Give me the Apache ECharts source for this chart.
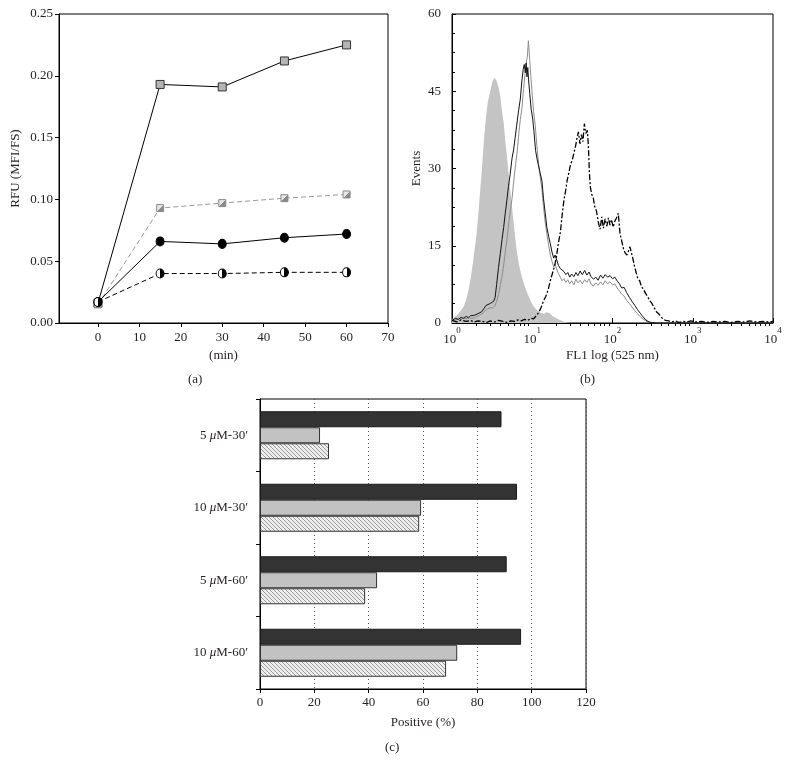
<!DOCTYPE html>
<html>
<head>
<meta charset="utf-8">
<script src="https://cdn.jsdelivr.net/npm/echarts@6/dist/echarts.min.js"></script>
<style>
html,body{margin:0;padding:0;background:#fff;}
#chart{width:789px;height:764px;}
</style>
</head>
<body>
<div id="chart"></div>
<script>
// ---------- Panel (a) data ----------
const minutes = [0, 15, 30, 45, 60];
const rfuSquareSolid  = [0.016, 0.193, 0.191, 0.212, 0.225];
const rfuSquareDashed = [0.015, 0.093, 0.097, 0.101, 0.104];
const rfuCircleSolid  = [0.017, 0.066, 0.064, 0.069, 0.072];
const rfuCircleDashed = [0.017, 0.040, 0.040, 0.041, 0.041];
const minuteTicks = [0, 10, 20, 30, 40, 50, 60, 70];

// ---------- Panel (b) data (FL1 vs events) ----------
const ctrlFL1 = [1.0,1.1,1.2,1.3,1.4,1.5,1.6,1.7,1.8,1.9,2.0,2.1,2.2,2.35,2.5,2.65,2.8,3.0,3.2,3.4,3.6,3.8,4.0,4.2,4.4,4.6,4.8,5.0,5.3,5.6,6.0,6.4,6.9,7.4,8.0,8.7,9.5,10.4,11.5,12.7,14,15.2,16.5,18,20,22,24.5,27,30];
const ctrlEvents = [0.8,1.2,1.8,2.5,3.2,4.5,6.2,8.5,11,14,16.5,20,24,29.5,35.5,40,43,45,47,47.6,47,45.8,44,41,39,35.5,33,30,26,22.5,18,14,11,9,7.3,5.8,4.3,3.2,2.5,2.0,1.8,2.1,1.9,1.3,0.9,0.6,0.3,0.1,0];

const blackFL1 = [1.0,1.1,1.2,1.3,1.4,1.5,1.6,1.7,1.8,1.9,2.0,2.1,2.2,2.35,2.5,2.65,2.8,3.0,3.15,3.3,3.45,3.6,3.8,4.0,4.2,4.4,4.6,4.8,5.05,5.3,5.6,5.85,6.1,6.4,6.75,7.1,7.4,7.7,7.95,8.2,8.4,8.6,8.8,9.0,9.3,9.7,10.1,10.5,11.0,11.5,12.0,12.6,13.2,13.8,14.5,15.2,16.0,16.8,17.6,18.5,19.3,20.2,21.2,22.3,23.5,24.8,26.2,27.7,29.3,31,33,35,37,39.5,42,45,48,51,54,58,62,66,71,76,81,87,93,100,107,114,122,130,140,150,162,175,190,205,222,240,260,285,310,350,1000,10000];
const blackEvents = [0.5,0.9,0.7,1.1,0.9,1.3,1.0,1.4,1.2,1.5,1.3,1.8,1.6,2.2,2.8,3.4,3.2,3.8,3.5,4.2,5.0,7.5,10.8,13.5,16.2,18.5,21.2,23.5,26.5,28.8,32.0,33.6,35.8,38.4,41.2,43.5,46.8,49.2,50.2,48.6,50.5,47.8,49.6,47.2,44.6,41.5,39.8,37.2,33.5,31.8,30.5,29.0,27.6,24.2,21.4,18.6,16.8,15.4,13.8,12.6,13.2,12.2,11.2,10.6,10.8,10.0,9.4,9.8,8.9,9.5,9.0,9.8,9.2,10.1,9.4,10.2,9.3,9.9,9.0,8.5,8.9,8.3,9.3,8.7,9.4,8.9,9.2,8.6,8.9,8.2,7.6,6.8,6.9,5.9,5.0,4.2,3.4,2.6,1.9,1.2,0.6,0.2,0.1,0,0,0];

const grayFL1 = [1.0,1.1,1.2,1.3,1.4,1.5,1.6,1.7,1.8,1.9,2.0,2.2,2.4,2.6,2.8,3.0,3.2,3.4,3.6,3.8,4.0,4.2,4.4,4.6,4.85,5.1,5.35,5.6,5.9,6.2,6.5,6.8,7.1,7.45,7.8,8.1,8.4,8.7,8.95,9.1,9.3,9.6,10.0,10.4,10.9,11.4,12.0,12.6,13.2,13.8,14.5,15.2,16.0,16.8,17.6,18.5,19.3,20.2,21.2,22.3,23.5,24.8,26.2,27.7,29.3,31,33,35,37,39.5,42,45,48,51,54,58,62,66,71,76,81,87,93,100,107,114,122,130,140,150,162,175,190,205,222,240,260,285,310,10000];
const grayEvents = [0.4,0.6,0.9,0.7,1.0,0.8,1.1,0.9,1.2,1.0,1.3,1.5,1.9,2.4,2.8,3.0,2.9,3.3,4.2,5.5,7.4,9.0,11.2,13.6,16.3,19.5,22.0,24.2,27.8,30.8,33.4,36.8,39.5,41.8,45.5,48.2,50.4,51.8,54.8,53.2,51.0,48.0,44.2,41.0,38.4,34.5,30.8,28.2,26.0,22.6,19.6,17.4,15.0,13.2,12.0,10.9,11.4,10.4,9.6,8.9,8.2,8.6,7.9,8.4,7.6,8.2,7.4,8.5,7.8,8.3,7.6,8.4,7.9,8.6,7.5,7.2,7.8,7.3,8.0,7.4,8.2,7.6,8.0,7.4,7.6,6.8,6.2,5.6,5.2,4.4,3.8,3.1,2.4,1.8,1.2,0.8,0.4,0.2,0,0];

const dashFL1 = [1.0,1.15,1.3,1.5,1.7,1.9,2.1,2.4,2.7,3.0,3.4,3.8,4.3,4.8,5.4,6.0,6.6,7.3,8.0,8.8,9.6,10.4,11.2,12.0,12.9,13.8,14.8,15.8,16.8,17.8,18.9,20.0,21.2,22.4,23.6,24.8,26.0,27.3,28.6,30.0,31.5,33.0,34.5,36.0,37.6,39.3,41.0,42.8,44.6,46.5,48.5,50.0,51.5,53,55,57.5,60,63,66.5,70,73.5,77,81,85,89,93,97,102,107,112,118,124,130,137,144,151,158,165,172,180,188,197,207,218,230,243,257,272,290,310,330,352,376,402,430,460,500,550,610,680,760,850,950,1100,1300,1500,1800,2100,2500,3000,3600,4300,5200,6200,7500,9000,10000];
const dashEvents = [0.5,0.2,0.6,0.3,0.5,0.2,0.4,0.3,0.1,0.4,0.2,0.5,0.3,0.1,0.4,0.3,0.6,0.4,0.7,0.5,0.9,0.8,1.4,2.0,3.0,4.3,5.2,6.5,8.2,9.6,11.0,12.8,15.6,17.6,21.0,23.8,25.6,27.8,29.2,30.8,31.6,33.0,34.2,35.8,37.1,34.8,36.6,35.2,38.7,36.8,37.4,34.6,29.2,26.4,25.0,24.4,22.6,21.8,19.6,18.2,20.6,18.4,20.2,18.8,20.4,19.0,20.1,18.6,19.8,20.4,21.3,17.4,16.0,14.4,13.6,13.2,14.0,14.8,14.6,12.4,11.0,9.8,8.6,8.2,7.0,6.6,5.8,5.2,4.4,3.8,3.0,2.2,1.8,1.2,0.7,0.5,0.4,0.2,0.4,0.1,0.3,0.2,0.4,0.2,0.3,0.1,0.3,0.2,0.3,0.1,0.3,0.2,0.4,0.2,0.3,0.2,0.3];

const eventTicksMinor = [2,3,4,5,6,7,8,9];

// ---------- Panel (c) data ----------
const barCategories = ['5 μM-30′', '10 μM-30′', '5 μM-60′', '10 μM-60′'];
const barDark    = [88.9, 94.6, 90.8, 96.1];
const barGray    = [22.1, 59.3, 43.1, 72.6];
const barHatched = [25.4, 58.6, 38.7, 68.5];

// ---------- build ----------
const FONT = "'Liberation Serif', 'Times New Roman', serif";
const TXT = '#231f20';
const zip = (xs, ys) => xs.map((x, i) => [x, ys[i]]);

// hatch pattern
const hatch = document.createElement('canvas');
hatch.width = 4; hatch.height = 4;
(function(){
  const c = hatch.getContext('2d');
  c.fillStyle = '#eeeeee'; c.fillRect(0,0,4,4);
  c.strokeStyle = '#9a9a9a'; c.lineWidth = 1;
  c.beginPath();
  c.moveTo(-1,-1); c.lineTo(5,5);
  c.moveTo(-1,3); c.lineTo(1,5);
  c.moveTo(3,-1); c.lineTo(5,1);
  c.stroke();
})();

// minor log tick positions (in decades)
const minorDecadePos = [];
for (let d = 0; d < 4; d++) eventTicksMinor.forEach(m => minorDecadePos.push(d + Math.log10(m)));

const axisLineBlack = {show: true, onZero: false, lineStyle: {color: '#000', width: 1}};
const labelBase = {color: TXT, fontFamily: FONT, fontSize: 13};
const nameBase = {color: TXT, fontFamily: FONT, fontSize: 13};

const grids = [
  {left: 59, top: 14, width: 329, height: 309, show: true, borderColor: '#000', borderWidth: 1, backgroundColor: 'transparent'},
  {left: 452, top: 14, width: 321, height: 309, show: true, borderColor: '#000', borderWidth: 1, backgroundColor: 'transparent'},
  {left: 260, top: 399, width: 326, height: 290, show: true, borderColor: '#000', borderWidth: 1, backgroundColor: 'transparent'}
];

const option = {
  animation: false,
  backgroundColor: '#fff',
  grid: grids,
  xAxis: [
    { gridIndex: 0, type: 'value', min: -9.4, max: 70,
      axisLine: axisLineBlack,
      axisTick: {show: true, inside: false, length: 4, lineStyle: {color: '#000'}, customValues: minuteTicks},
      axisLabel: Object.assign({margin: 8, customValues: minuteTicks}, labelBase),
      splitLine: {show: false},
      name: '(min)', nameLocation: 'middle', nameGap: 26, nameTextStyle: nameBase },
    { gridIndex: 1, type: 'log', logBase: 10, min: 1, max: 10000,
      axisLine: axisLineBlack,
      axisTick: {show: true, inside: true, length: 5, lineStyle: {color: '#000'}},
      axisLabel: Object.assign({margin: 3,
        formatter: v => '{b|10}{s|' + Math.round(Math.log10(v)) + '}',
        rich: {
          b: {fontFamily: FONT, fontSize: 13, color: TXT, lineHeight: 20, verticalAlign: 'bottom'},
          s: {fontFamily: FONT, fontSize: 9, color: TXT, lineHeight: 20, verticalAlign: 'top'}
        }}, labelBase),
      splitLine: {show: false},
      minorTick: {show: false},
      name: 'FL1 log (525 nm)', nameLocation: 'middle', nameGap: 26, nameTextStyle: nameBase },
    { gridIndex: 1, type: 'value', min: 0, max: 4,
      axisLine: {show: false},
      axisTick: {show: true, inside: true, length: 3, lineStyle: {color: '#000'}, customValues: minorDecadePos},
      axisLabel: {show: false},
      splitLine: {show: false} },
    { gridIndex: 2, type: 'value', min: 0, max: 120, interval: 20,
      axisLine: axisLineBlack,
      axisTick: {show: true, inside: false, length: 4, lineStyle: {color: '#000'}},
      axisLabel: Object.assign({margin: 7}, labelBase),
      splitLine: {show: true, lineStyle: {color: '#555', width: 1, type: [1, 3]}},
      name: 'Positive (%)', nameLocation: 'middle', nameGap: 27, nameTextStyle: nameBase }
  ],
  yAxis: [
    { gridIndex: 0, type: 'value', min: 0, max: 0.25, interval: 0.05,
      axisLine: axisLineBlack,
      axisTick: {show: true, inside: false, length: 4, lineStyle: {color: '#000'}},
      axisLabel: Object.assign({margin: 6, formatter: v => v.toFixed(2)}, labelBase),
      splitLine: {show: false},
      name: 'RFU (MFI/FS)', nameLocation: 'middle', nameGap: 37, nameTextStyle: nameBase },
    { gridIndex: 1, type: 'value', min: 0, max: 60, interval: 15,
      axisLine: axisLineBlack,
      axisTick: {show: true, inside: true, length: 4, lineStyle: {color: '#000'}},
      minorTick: {show: true, splitNumber: 4, length: 3, lineStyle: {color: '#000'}},
      axisLabel: Object.assign({margin: 11}, labelBase),
      splitLine: {show: false},
      name: 'Events', nameLocation: 'middle', nameGap: 29, nameTextStyle: nameBase },
    { gridIndex: 2, type: 'category', data: barCategories, inverse: true,
      axisLine: axisLineBlack,
      axisTick: {show: true, inside: false, length: 4, alignWithLabel: false, lineStyle: {color: '#000'}},
      axisLabel: Object.assign({margin: 12,
        formatter: v => v.replace('μ', '{i|μ}'),
        rich: {i: {fontFamily: FONT, fontSize: 13, fontStyle: 'italic', color: TXT}}}, labelBase),
      splitLine: {show: false} }
  ],
  series: [
    // panel a
    { type: 'line', xAxisIndex: 0, yAxisIndex: 0, data: zip(minutes, rfuSquareSolid),
      symbol: 'rect', symbolSize: 8, showAllSymbol: true,
      lineStyle: {color: '#000', width: 1},
      itemStyle: {color: '#b5b5b5', borderColor: '#333', borderWidth: 1}, z: 3 },
    { type: 'line', xAxisIndex: 0, yAxisIndex: 0, data: zip(minutes, rfuSquareDashed),
      symbol: 'rect', symbolSize: 7,
      lineStyle: {color: '#9a9a9a', width: 1, type: [5, 3]},
      itemStyle: {
        color: new echarts.graphic.LinearGradient(0, 0, 1, 1, [
          {offset: 0, color: '#e6e6e6'}, {offset: 0.5, color: '#e6e6e6'},
          {offset: 0.5, color: '#8a8a8a'}, {offset: 1, color: '#8a8a8a'}]),
        borderColor: '#8a8a8a', borderWidth: 1 }, z: 3 },
    { type: 'line', xAxisIndex: 0, yAxisIndex: 0, data: zip(minutes, rfuCircleSolid),
      symbol: 'circle', symbolSize: [8, 9],
      lineStyle: {color: '#000', width: 1},
      itemStyle: {color: '#000', borderColor: '#000', borderWidth: 1}, z: 4 },
    { type: 'line', xAxisIndex: 0, yAxisIndex: 0, data: zip(minutes, rfuCircleDashed),
      symbol: 'circle', symbolSize: [8, 9],
      lineStyle: {color: '#000', width: 1, type: [5, 3]},
      itemStyle: {
        color: new echarts.graphic.LinearGradient(0, 0, 1, 0, [
          {offset: 0, color: '#fff'}, {offset: 0.5, color: '#fff'},
          {offset: 0.5, color: '#000'}, {offset: 1, color: '#000'}]),
        borderColor: '#000', borderWidth: 1 }, z: 5 },
    // panel b
    { type: 'line', xAxisIndex: 1, yAxisIndex: 1, data: zip(ctrlFL1, ctrlEvents),
      showSymbol: false, symbol: 'none', lineStyle: {width: 0, color: '#c4c4c4'},
      areaStyle: {color: '#c4c4c4', opacity: 1}, z: 1 },
    { type: 'line', xAxisIndex: 1, yAxisIndex: 1, data: zip(grayFL1, grayEvents),
      showSymbol: false, symbol: 'none', lineStyle: {width: 1, color: '#8c8c8c'}, z: 2 },
    { type: 'line', xAxisIndex: 1, yAxisIndex: 1, data: zip(blackFL1, blackEvents),
      showSymbol: false, symbol: 'none', lineStyle: {width: 1, color: '#111'}, z: 3 },
    { type: 'line', xAxisIndex: 1, yAxisIndex: 1, data: zip(dashFL1, dashEvents),
      showSymbol: false, symbol: 'none', lineStyle: {width: 1.3, color: '#000', type: [6, 2, 2, 2]}, z: 3 },
    // panel c
    { type: 'bar', xAxisIndex: 3, yAxisIndex: 2, data: barDark, barWidth: 16, barGap: '0%',
      itemStyle: {color: '#333333', borderColor: '#1a1a1a', borderWidth: 1} },
    { type: 'bar', xAxisIndex: 3, yAxisIndex: 2, data: barGray, barWidth: 16, barGap: '0%',
      itemStyle: {color: '#c2c2c2', borderColor: '#333', borderWidth: 1} },
    { type: 'bar', xAxisIndex: 3, yAxisIndex: 2, data: barHatched, barWidth: 16, barGap: '0%',
      itemStyle: {color: {image: hatch, repeat: 'repeat'}, borderColor: '#333', borderWidth: 1} }
  ],
  graphic: [
    {type: 'text', left: 188, top: 373, style: {text: '(a)', font: "13px " + FONT, fill: TXT}},
    {type: 'text', left: 580, top: 373, style: {text: '(b)', font: "13px " + FONT, fill: TXT}},
    {type: 'text', left: 385, top: 741, style: {text: '(c)', font: "13px " + FONT, fill: TXT}}
  ]
};

const chart = echarts.init(document.getElementById('chart'), null, {renderer: 'canvas'});
chart.setOption(option);
</script>
</body>
</html>
